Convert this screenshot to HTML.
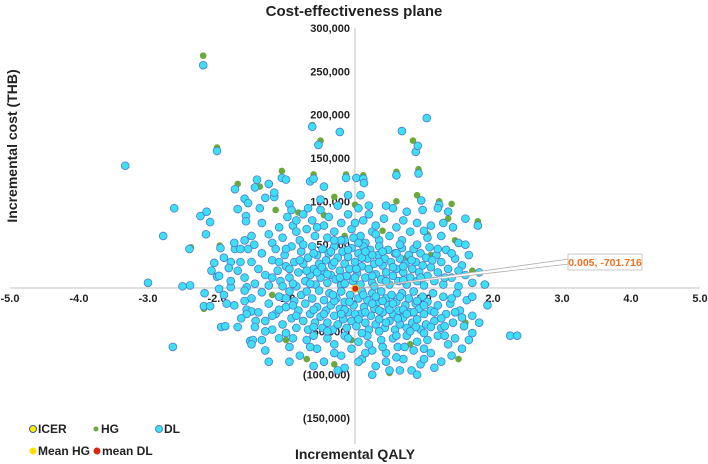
<!DOCTYPE html>
<html><head><meta charset="utf-8"><style>
body{margin:0;background:#fff;}
svg{display:block;font-family:"Liberation Sans",Arial,sans-serif;}
</style></head><body>
<svg id="chart" width="708" height="464" viewBox="0 0 708 464" xmlns="http://www.w3.org/2000/svg">
<text x="354" y="16" text-anchor="middle" font-size="15" font-weight="bold" fill="#222">Cost-effectiveness plane</text>
<text transform="translate(17,146) rotate(-90)" text-anchor="middle" font-size="14" font-weight="bold" fill="#222">Incremental cost (THB)</text>
<text x="355" y="459" text-anchor="middle" font-size="14" font-weight="bold" fill="#222">Incremental QALY</text>
<g id="axes"></g>
<g id="hg"></g>
<g id="dl"></g>
<g id="extra"></g>
<g font-size="12" font-weight="bold" fill="#222">
 <g><circle cx="33" cy="429" r="3.5" fill="#ffee00" stroke="#3d5a8a" stroke-width="1"/><text x="38" y="433">ICER</text></g>
 <g><circle cx="96" cy="429" r="2.5" fill="#6aaa3a"/><text x="101" y="433">HG</text></g>
 <g><circle cx="159" cy="429" r="3.5" fill="#3ce0f5" stroke="#5a7fd0" stroke-width="1"/><text x="164" y="433">DL</text></g>
 <g><circle cx="33" cy="451" r="3.5" fill="#ffdd00"/><text x="38" y="455">Mean HG</text></g>
 <g><circle cx="97" cy="451" r="3.5" fill="#d42a10"/><text x="102" y="455">mean DL</text></g>
</g>
</svg>
<script>
const xTicks=[-5,-4,-3,-2,-1,0,1,2,3,4,5];
const yTicks=[300,250,200,150,100,50,0,-50,-100,-150];
const meanDL=[0.005,-0.701716];
const meanLabel="0.005, -701.716";
const hgPoints=[[-2.2,268],[-2.0,162],[-0.62,188],[-0.5,170],[0.84,170],[0.92,137],[0.6,134],[-1.06,135],[-0.6,131],[-0.13,131],[0.12,130],[-1.38,117],[-1.7,120],[-2.38,47],[-1.96,49],[-1.57,-28],[-2.19,-24],[0.9,107],[1.4,97],[1.78,77],[1.22,100],[-0.45,84],[-0.82,87],[-1.15,90],[1.05,62],[1.35,80],[0.6,100],[0.0,96],[-0.3,105],[1.45,55],[1.9,4],[1.7,20],[0.3,-20],[-0.05,-60],[0.5,-98],[-1.0,-60],[1.5,-82],[0.8,-65],[-0.7,-82],[-0.3,-88],[1.6,-40],[-1.2,-8],[0.4,66],[-0.15,60],[0.75,36],[1.1,38]];
const dlPoints=[
[-2.2,257],[-3.33,141],[-2.0,158],[-0.62,186],[-0.22,180],[1.04,196],[0.68,181],[0.88,157],[0.91,164],[-0.53,165],
[-2.62,92],[-2.78,60],[-3.0,6],[-2.5,2],[-2.39,3],[-2.4,45],[-2.64,-68],[-2.24,83],[-2.15,88],[-2.16,62],[-1.95,46],[-2.04,29],[-2.08,20],[-2.0,13],[-1.97,14],[-1.97,-1],[-2.18,-6],[-2.19,-21],[-2.1,-21],[-1.86,-18],[-1.8,1],[-1.94,-45],[-1.88,-44],[-1.74,114],[-1.6,103],[-1.7,91],[-1.58,83],[-1.58,77],[-1.74,45],[-1.66,45],[-1.55,45],[-1.46,50],[-1.8,30],[-1.66,30],[-1.83,23],[-1.57,1],[-1.6,-3],[-1.57,-25],[-1.5,-27],[-1.57,-30],[-1.44,-38],[-1.52,-61],[-1.48,-60],[-1.42,125],
[0.6,130],[0.92,132],[-1.25,120],[-1.45,116],[-1.06,127],[-1.0,125],[-0.65,123],[-0.6,126],[-0.45,117],[-0.13,127],[0.02,127],[0.12,126],[0.13,121],[-1.3,104],[-1.17,105],[-1.17,110],[-0.95,97],[-0.5,102],[-0.1,107],[0.08,107],[0.96,101],[1.22,96],
[-1.75,52],[-1.6,55],[-1.5,60],[-1.35,75],[-1.25,62],[-1.2,52],[-1.1,70],[-1.05,58],[-0.98,82],[-0.92,90],[-0.9,72],[-0.85,65],[-0.8,55],[-0.75,85],[-0.7,68],[-0.62,78],[-0.58,60],[-0.5,90],[-0.45,72],[-0.4,58],[-0.38,82],[-0.3,65],[-0.25,95],[-0.2,75],[-0.15,55],[-0.1,85],[-0.05,68],[0.05,92],[0.08,60],[0.12,78],[0.2,85],[0.25,65],[0.3,72],[0.35,55],[0.42,80],[0.5,60],[0.55,92],[0.6,70],[0.68,55],[0.75,88],[0.8,65],[0.9,75],[0.98,90],[1.05,58],[1.1,72],[1.2,92],[1.25,60],[1.35,88],[1.42,70],[1.5,52],[1.6,80],[1.78,72],[-1.38,92],[-1.55,98],[-2.1,76],[-0.02,58],[0.45,95],[1.28,75],[-0.68,92],[0.15,52],
[-1.6,12],[-1.5,30],[-1.45,5],[-1.4,22],[-1.35,40],[-1.3,15],[-1.25,3],[-1.2,32],[-1.15,45],[-1.12,20],[-1.08,8],[-1.02,38],[-1.0,25],[-0.95,12],[-0.92,48],[-0.88,30],[-0.85,2],[-0.82,18],[-0.78,42],[-0.75,28],[-0.72,8],[-0.68,35],[-0.65,15],[-0.62,48],[-0.6,22],[-0.57,4],[-0.55,38],[-0.52,28],[-0.5,12],[-0.47,45],[-0.45,20],[-0.42,32],[-0.4,6],[-0.38,40],[-0.35,15],[-0.33,26],[-0.3,48],[-0.28,10],[-0.25,35],[-0.22,20],[-0.2,3],[-0.18,42],[-0.15,28],[-0.12,14],[-0.1,36],[-0.08,22],[-0.05,46],[-0.03,8],[0.0,30],[0.03,17],[0.05,40],[0.08,4],[0.1,25],[0.12,48],[0.15,12],[0.18,34],[0.2,22],[0.22,44],[0.25,6],[0.28,28],[0.3,16],[0.33,38],[0.35,48],[0.38,10],[0.4,26],[0.43,34],[0.45,18],[0.48,44],[0.5,4],[0.52,30],[0.55,14],[0.58,40],[0.6,22],[0.63,8],[0.65,34],[0.68,46],[0.7,18],[0.73,28],[0.75,4],[0.78,38],[0.8,12],[0.83,22],[0.85,45],[0.88,30],[0.9,8],[0.93,18],[0.95,40],[0.98,26],[1.0,3],[1.03,35],[1.05,14],[1.08,47],[1.1,24],[1.15,8],[1.18,38],[1.2,18],[1.25,30],[1.28,4],[1.32,44],[1.35,22],[1.4,12],[1.45,34],[1.5,2],[1.55,26],[1.6,15],[1.65,38],[1.7,6],[1.8,18],[1.88,4],[-1.9,35],[-1.7,20],[-1.8,8],[-0.7,20],[-0.3,30],[0.1,35],[0.6,40],[-0.15,5],[0.45,8],[-0.9,5],[0.25,38],[0.7,25],[-0.55,18],[0.0,12],[1.4,40],[-1.1,30],
[-1.9,-8],[-1.75,-20],[-1.65,-35],[-1.5,-12],[-1.45,-45],[-1.4,-28],[-1.35,-5],[-1.3,-38],[-1.25,-18],[-1.2,-48],[-1.15,-30],[-1.1,-10],[-1.05,-42],[-1.0,-22],[-0.95,-4],[-0.92,-35],[-0.88,-15],[-0.85,-46],[-0.82,-26],[-0.78,-8],[-0.75,-38],[-0.72,-18],[-0.68,-48],[-0.65,-30],[-0.62,-12],[-0.58,-40],[-0.55,-22],[-0.52,-3],[-0.5,-33],[-0.47,-46],[-0.45,-14],[-0.42,-26],[-0.4,-40],[-0.37,-6],[-0.35,-20],[-0.32,-48],[-0.3,-32],[-0.27,-12],[-0.25,-42],[-0.22,-24],[-0.2,-4],[-0.17,-36],[-0.15,-16],[-0.12,-46],[-0.1,-28],[-0.07,-8],[-0.05,-38],[-0.02,-20],[0.02,-44],[0.05,-12],[0.08,-30],[0.1,-4],[0.13,-22],[0.15,-40],[0.18,-14],[0.2,-48],[0.23,-32],[0.25,-6],[0.28,-24],[0.3,-42],[0.33,-16],[0.35,-36],[0.38,-4],[0.4,-28],[0.43,-46],[0.45,-12],[0.48,-20],[0.5,-38],[0.53,-8],[0.55,-30],[0.58,-48],[0.6,-16],[0.63,-26],[0.65,-42],[0.68,-6],[0.7,-34],[0.73,-20],[0.75,-46],[0.78,-12],[0.8,-28],[0.83,-40],[0.85,-4],[0.88,-18],[0.9,-36],[0.93,-24],[0.95,-48],[0.98,-10],[1.0,-30],[1.03,-42],[1.05,-16],[1.1,-26],[1.13,-6],[1.15,-38],[1.2,-20],[1.25,-46],[1.28,-10],[1.32,-30],[1.38,-18],[1.42,-40],[1.48,-6],[1.52,-26],[1.58,-44],[1.62,-14],[1.7,-32],[1.8,-40],[1.92,-20],[-1.6,-15],[-0.6,-25],[0.0,-30],[0.3,-10],[0.7,-25],[1.1,-45],[-0.9,-20],[0.5,-25],[-0.3,-15],[0.9,-15],[1.45,-28],[0.15,-28],[-0.15,-25],[0.62,-35],[1.25,-35],[-1.1,-25],[0.4,-15],[0.85,-28],
[-1.5,-65],[-1.3,-72],[-1.1,-58],[-0.95,-68],[-0.8,-78],[-0.7,-60],[-0.55,-70],[-0.45,-85],[-0.4,-58],[-0.3,-65],[-0.2,-78],[-0.15,-55],[-0.05,-70],[0.05,-62],[0.1,-82],[0.18,-55],[0.25,-72],[0.3,-90],[0.38,-60],[0.45,-75],[0.5,-95],[0.55,-58],[0.62,-68],[0.7,-82],[0.75,-55],[0.85,-72],[0.9,-62],[0.95,-88],[1.05,-60],[1.1,-75],[1.2,-55],[1.25,-85],[1.35,-65],[1.45,-58],[1.55,-70],[1.7,-52],[-0.25,-95],[0.82,-95],[2.25,-55],[2.35,-55],[-1.0,-52],[0.2,-65],[1.0,-70],[-0.6,-55],
[-0.95,22],[-0.8,32],[-0.65,5],[-0.48,24],[-0.35,42],[-0.22,12],[-0.1,44],[0.02,22],[0.15,42],[0.28,2],[0.4,42],[0.55,24],[0.7,9],[0.82,32],[0.95,12],[1.12,32],[1.3,12],[1.5,20],[-1.2,12],[-1.05,2],[-0.6,40],[-0.4,16],[0.05,52],[0.35,30],[0.65,50],[0.9,50],[1.2,45],[-0.2,55],[-0.75,50],[0.25,14],
[-1.0,-12],[-0.85,-32],[-0.7,-4],[-0.6,-45],[-0.45,-30],[-0.32,-8],[-0.2,-30],[-0.08,-16],[0.05,-36],[0.12,-8],[0.25,-18],[0.35,-26],[0.45,-40],[0.55,-18],[0.65,-10],[0.75,-30],[0.88,-45],[1.0,-20],[1.15,-28],[1.3,-44],[1.4,-12],[1.55,-34],[-1.2,-32],[-0.4,-50],[0.1,-52],[0.6,-55],[1.0,-52],[-0.1,-58],[0.35,-50],[0.8,-50],[1.3,-55],[-1.3,-50],[-0.9,-58],[-0.3,-75],[0.15,-75],[0.6,-80],[1.0,-82],[-0.65,-68],[0.4,-68],[0.72,-68],
[-0.3,55],[0.3,62],[-0.55,70],[0.0,75],[0.7,78],[1.0,66],[-0.85,78],[0.2,95],[-1.0,45],[1.6,50],[1.7,-10],[-1.7,-45],[-1.35,-60],[1.65,-60],[0.05,-85],[-0.6,-90],[0.65,-95],[1.15,-92],[-0.95,-85],[1.4,-78],[0.25,-100],[-0.15,-92],[0.45,-85],[0.9,-100],[-1.25,-85]
];
const NS="http://www.w3.org/2000/svg";
const X0=355,XU=69,Y0=288,YK=0.867;
function sx(v){return X0+v*XU;}
function sy(k){return Y0-k*YK;}
function mk(tag,attrs,parent){const e=document.createElementNS(NS,tag);for(const k in attrs)e.setAttribute(k,attrs[k]);parent.appendChild(e);return e;}
const axes=document.getElementById('axes');
const xl=mk('line',{x1:sx(-5),x2:sx(5),y1:Y0,y2:Y0,stroke:'#c0c0c0','stroke-width':1},axes);


const yl=mk('line',{x1:X0,x2:X0,y1:sy(300),y2:sy(-180),stroke:'#c0c0c0','stroke-width':1},axes);


xTicks.forEach(v=>{
 const t=mk('text',{x:sx(v),y:Y0+14,'text-anchor':'middle','font-size':11,'font-weight':'bold',fill:'#222'},axes);
 t.textContent=v.toFixed(1);
 
 
});
function fmt(k){const s=Math.abs(k*1000).toLocaleString('en-US');return k<0?'('+s+')':s;}
yTicks.forEach(v=>{
 if(v===0)return;
 const t=mk('text',{x:X0-5,y:sy(v)+4,'text-anchor':'end','font-size':11,'font-weight':'bold',fill:'#222'},axes);
 t.textContent=fmt(v);
 
 
});
const hg=document.getElementById('hg');
hgPoints.forEach(p=>{
 const c=mk('circle',{cx:sx(p[0]),cy:sy(p[1]),r:3.3,fill:'#6aaa3a'},hg);
 
 
});
const dl=document.getElementById('dl');
dlPoints.forEach(p=>{
 const c=mk('circle',{cx:sx(p[0]),cy:sy(p[1]),r:3.9,fill:'#3ce0f5',stroke:'#5577cc','stroke-width':0.8},dl);
 
 
});
const ex=document.getElementById('extra');
const mx=sx(meanDL[0]),my=sy(meanDL[1]);
const ld=mk('polygon',{points:`${mx},${my} 569,259 569,264`,fill:'#fff',stroke:'#b0b0b0','stroke-width':0.8},ex);


const md=mk('circle',{cx:mx,cy:my,r:3.5,fill:'#d42a10',stroke:'#ffcc00','stroke-width':1},ex);


const bx=mk('rect',{x:568,y:254,width:74,height:16,fill:'#fff',stroke:'#c8c8c8','stroke-width':1},ex);


const lt=mk('text',{x:605,y:266,'text-anchor':'middle','font-size':10.5,'font-weight':'bold',fill:'#f07020'},ex);
lt.textContent=meanLabel;


</script>
</body></html>
